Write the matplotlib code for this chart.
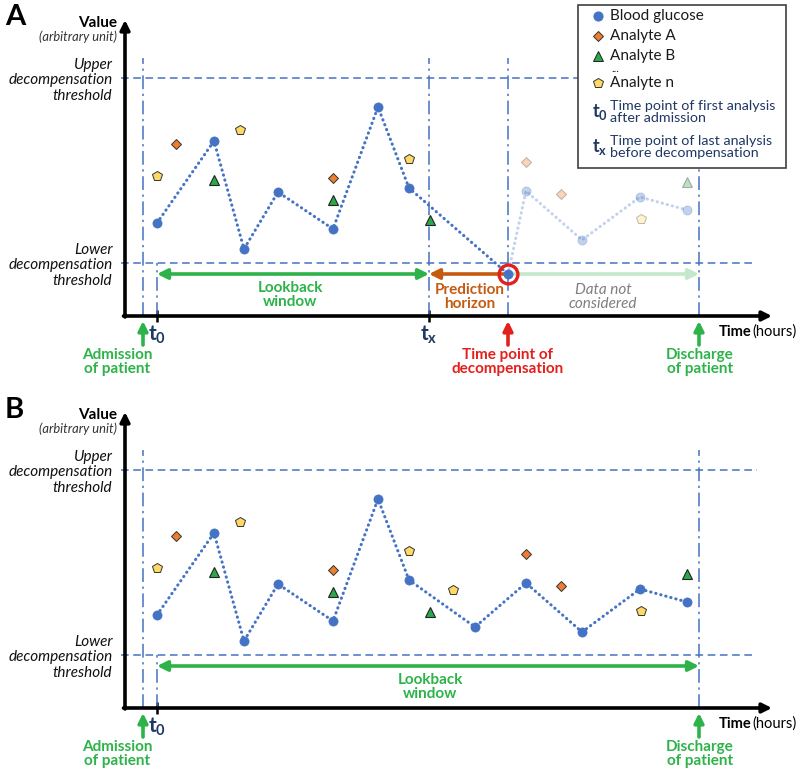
import matplotlib
matplotlib.use('Agg')
import matplotlib.pyplot as plt
from matplotlib.lines import Line2D
from matplotlib.patches import Rectangle

plt.rcParams['font.family'] = ['Lato', 'DejaVu Sans']
plt.rcParams['mathtext.fontset'] = 'custom'
plt.rcParams['mathtext.rm'] = 'Lato'
plt.rcParams['mathtext.bf'] = 'Lato:bold'
plt.rcParams['mathtext.it'] = 'Lato:italic'

# ---------------- data (time in hours, value in arbitrary units) ----------------
glucose_t_A = [3.2, 8.9, 11.9, 15.3, 20.8, 25.3, 28.4, 38.3, 40.1, 45.7, 51.5, 56.2]
glucose_v_A = [9.3, 17.5, 6.7, 12.4, 8.7, 20.9, 12.8, 4.2, 12.5, 7.6, 11.9, 10.6]
glucose_t_B = [3.2, 8.9, 11.9, 15.3, 20.8, 25.3, 28.4, 35.0, 40.1, 45.7, 51.5, 56.2]
glucose_v_B = [9.3, 17.5, 6.7, 12.4, 8.7, 20.9, 12.8, 8.1, 12.5, 7.6, 11.9, 10.6]

analyteA_t = [5.1, 20.8, 40.1, 43.6]
analyteA_v = [17.2, 13.8, 15.4, 12.2]
analyteB_t = [8.9, 20.8, 30.5, 56.2]
analyteB_v = [13.6, 11.6, 9.6, 13.4]
analyteN_t_A = [3.2, 11.5, 28.4, 51.6]
analyteN_v_A = [14.0, 18.6, 15.7, 9.7]
analyteN_t_B = [3.2, 11.5, 28.4, 32.8, 51.6]
analyteN_v_B = [14.0, 18.6, 15.7, 11.8, 9.7]

upper_threshold = 23.8
lower_threshold = 5.3
t_admission = 1.8
t_0 = 3.2
t_x = 30.4
t_decomp = 38.3
t_discharge = 57.4

threshold_labels = ['Lower\ndecompensation\nthreshold', 'Upper\ndecompensation\nthreshold']

# ---------------- styles ----------------
BLUE = '#4472C4'
ORANGE = '#ED7D31'
GREEN_M = '#2BA84A'
YELLOW = '#FFD966'
GREEN_T = '#2DB34A'
PRED = '#C55A11'
RED = '#E3201B'
NAVY = '#1F3864'
GREY = '#7F7F7F'
FADE = 0.32

W, H = 800, 770
fig = plt.figure(figsize=(W / 100, H / 100), dpi=100)


def fpx(x, y):
    return (x / W, 1 - y / H)


XMAX, YMAX = 64.7, 29.6


def make_axes(top_px):
    left, right, bottom = 125, 772, top_px + 296
    return fig.add_axes([left / W, 1 - bottom / H, (right - left) / W, 296 / H])


def draw_panel(ax, gl_t, gl_v, aN_t, aN_v, mode):
    ax.set_xlim(0, XMAX)
    ax.set_ylim(0, YMAX)
    for s in ax.spines.values():
        s.set_visible(False)
    ax.patch.set_alpha(0)

    # axes with arrow heads
    ap = dict(arrowstyle='-|>', lw=2.6, color='black', mutation_scale=14, shrinkA=0, shrinkB=0)
    ax.annotate('', xy=(XMAX, 0), xytext=(-0.15, 0), arrowprops=ap, annotation_clip=False, zorder=6)
    ax.annotate('', xy=(0, YMAX), xytext=(0, -0.1), arrowprops=ap, annotation_clip=False, zorder=6)

    # thresholds
    ax.plot([-0.4, 63.2], [upper_threshold] * 2, color=BLUE, lw=1.1, ls=(0, (5, 3)), clip_on=False)
    ax.plot([-0.4, 62.7], [lower_threshold] * 2, color=BLUE, lw=1.1, ls=(0, (5, 3)), clip_on=False)

    # vertical dash-dot lines
    dd = dict(color=BLUE, lw=1.1, ls=(0, (9, 3, 1.5, 3)))
    vl = [t_admission, t_discharge] + ([t_x, t_decomp] if mode == 'A' else [])
    for t in vl:
        ax.plot([t, t], [0, 25.8], **dd)
    ax.plot([t_0, t_0], [0, lower_threshold], **dd)

    cutoff = t_decomp if mode == 'A' else 1e9

    def split(ts, vs):
        a = [(t, v) for t, v in zip(ts, vs) if t <= cutoff]
        b = [(t, v) for t, v in zip(ts, vs) if t > cutoff]
        return a, b

    line_style = dict(color=BLUE, lw=2.2, ls=(0, (0.1, 1.6)), dash_capstyle='round')
    g_in, g_out = split(gl_t, gl_v)
    ax.plot([p[0] for p in g_in], [p[1] for p in g_in], zorder=3, **line_style)
    if g_out:
        seg = [g_in[-1]] + g_out
        ax.plot([p[0] for p in seg], [p[1] for p in seg], zorder=3, alpha=FADE, **line_style)

    def scatter(ts, vs, marker, ms, fc, ec, lw):
        a, b = split(ts, vs)
        if a:
            ax.plot([p[0] for p in a], [p[1] for p in a], ls='none', marker=marker, ms=ms,
                    mfc=fc, mec=ec, mew=lw, zorder=5)
        if b:
            ax.plot([p[0] for p in b], [p[1] for p in b], ls='none', marker=marker, ms=ms,
                    mfc=fc, mec=ec, mew=lw, zorder=5, alpha=FADE)

    scatter(gl_t, gl_v, 'o', 6.6, BLUE, BLUE, 0.5)
    scatter(analyteA_t, analyteA_v, 'D', 4.8, ORANGE, '#333333', 0.7)
    scatter(analyteB_t, analyteB_v, '^', 7.2, GREEN_M, '#222222', 0.8)
    scatter(aN_t, aN_v, 'p', 7.0, YELLOW, '#333333', 0.7)

    # horizontal annotation arrows
    y_arr = 4.2
    if mode == 'A':
        ax.annotate('', xy=(t_0, y_arr), xytext=(t_x, y_arr),
                    arrowprops=dict(arrowstyle='<|-|>', lw=2.6, color=GREEN_T, mutation_scale=15,
                                    shrinkA=0, shrinkB=0), zorder=4)
        ax.annotate('', xy=(t_discharge, y_arr), xytext=(t_decomp, y_arr),
                    arrowprops=dict(arrowstyle='-|>', lw=2.6, color='#C3E8CA', mutation_scale=15,
                                    shrinkA=0, shrinkB=0), zorder=2)
        ax.annotate('', xy=(t_x, y_arr), xytext=(t_decomp, y_arr),
                    arrowprops=dict(arrowstyle='-|>', lw=2.6, color=PRED, mutation_scale=15,
                                    shrinkA=0, shrinkB=0), zorder=4)
        ax.plot([t_decomp], [glucose_v_A[7]], ls='none', marker='o', ms=13.5, mfc='none',
                mec=RED, mew=2.4, zorder=7)
        ax.text(16.5, 2.1, 'Lookback\nwindow', ha='center', va='center', color=GREEN_T,
                fontsize=11, fontweight='bold', linespacing=1.05)
        ax.text(34.5, 1.9, 'Prediction\nhorizon', ha='center', va='center', color=PRED,
                fontsize=11, fontweight='bold', linespacing=1.05)
        ax.text(47.8, 1.9, 'Data not\nconsidered', ha='center', va='center', color=GREY,
                fontsize=11, fontstyle='italic', linespacing=1.05)
    else:
        ax.annotate('', xy=(t_0, y_arr), xytext=(t_discharge, y_arr),
                    arrowprops=dict(arrowstyle='<|-|>', lw=2.6, color=GREEN_T, mutation_scale=15,
                                    shrinkA=0, shrinkB=0), zorder=4)
        ax.text(30.5, 2.1, 'Lookback\nwindow', ha='center', va='center', color=GREEN_T,
                fontsize=11, fontweight='bold', linespacing=1.05)

    # ticks
    if mode == 'A':
        ax.set_xticks([t_0, t_x], labels=[r'$\mathbf{t_0}$', r'$\mathbf{t_x}$'])
    else:
        ax.set_xticks([t_0], labels=[r'$\mathbf{t_0}$'])
    ax.tick_params(axis='x', direction='inout', length=9, width=1.8, color='black',
                   labelcolor=NAVY, labelsize=15, pad=1)
    ax.set_yticks([lower_threshold, upper_threshold], labels=threshold_labels)
    ax.tick_params(axis='y', length=0, pad=9, labelsize=11, labelcolor='#111111')
    for lbl in ax.get_yticklabels():
        lbl.set_fontstyle('italic')
        lbl.set_linespacing(1.15)

    # axis titles
    ax.text(-0.8, 28.9, 'Value', ha='right', va='baseline', fontsize=11, fontweight='bold')
    ax.text(-0.8, 28.6, '(arbitrary unit)', ha='right', va='top', fontsize=9.3, fontstyle='italic',
            color='#333333')
    tt = ax.text(59.4, -1.6, 'Time', ha='left', va='center', fontsize=10.5, fontweight='bold')
    ax.annotate('(hours)', xy=(1, 0.5), xycoords=tt, xytext=(0.5, 0), textcoords='offset points',
                ha='left', va='center', fontsize=10.5)

    # event arrows under the axis
    def up_arrow(t, color, label, lx):
        ax.annotate('', xy=(t, -0.5), xytext=(t, -2.9),
                    arrowprops=dict(arrowstyle='-|>', lw=2.6, color=color, mutation_scale=14,
                                    shrinkA=0, shrinkB=0), annotation_clip=False)
        ax.text(lx, -4.6, label, ha='center', va='center', color=color, fontsize=11,
                fontweight='bold', linespacing=1.05)

    up_arrow(t_admission, GREEN_T, 'Admission\nof patient', -0.8)
    up_arrow(t_discharge, GREEN_T, 'Discharge\nof patient', 57.5)
    if mode == 'A':
        up_arrow(t_decomp, RED, 'Time point of\ndecompensation', t_decomp)


axA = make_axes(20)
axB = make_axes(412)
draw_panel(axA, glucose_t_A, glucose_v_A, analyteN_t_A, analyteN_v_A, 'A')
draw_panel(axB, glucose_t_B, glucose_v_B, analyteN_t_B, analyteN_v_B, 'B')

fig.text(*fpx(5, 25), 'A', fontsize=21, fontweight='bold', va='baseline')
fig.text(*fpx(5, 418), 'B', fontsize=21, fontweight='bold', va='baseline')

# ---------------- legend (figure pixel layout) ----------------
x0, y0 = fpx(578, 168)
x1, y1 = fpx(786, 5)
fig.add_artist(Rectangle((x0, y0), x1 - x0, y1 - y0, transform=fig.transFigure,
                         facecolor='white', edgecolor='#404040', lw=1.2, zorder=10))
leg_items = [
    ('o', 6.6, BLUE, BLUE, 16, 'Blood glucose'),
    ('D', 4.8, ORANGE, '#333333', 36, 'Analyte A'),
    ('^', 7.2, GREEN_M, '#222222', 56, 'Analyte B'),
    ('p', 7.0, YELLOW, '#333333', 83, 'Analyte n'),
]
for m, ms, fc, ec, yy, lab in leg_items:
    fig.add_artist(Line2D([598 / W], [1 - yy / H], transform=fig.transFigure, marker=m, ms=ms,
                          mfc=fc, mec=ec, mew=0.7, ls='none', zorder=11))
    fig.text(*fpx(610, yy), lab, fontsize=11, va='center', ha='left', color='#1a1a1a', zorder=11)
fig.text(*fpx(611, 68), '...', fontsize=8, va='center', ha='left', color='#1a1a1a', zorder=11)
fig.text(*fpx(592, 112), r'$\mathbf{t_0}$', fontsize=13, va='center', ha='left', color=NAVY, zorder=11)
fig.text(*fpx(610, 112), 'Time point of first analysis\nafter admission', fontsize=10.3,
         va='center', ha='left', color=NAVY, linespacing=1.05, zorder=11)
fig.text(*fpx(592, 147), r'$\mathbf{t_x}$', fontsize=13, va='center', ha='left', color=NAVY, zorder=11)
fig.text(*fpx(610, 147), 'Time point of last analysis\nbefore decompensation', fontsize=10.3,
         va='center', ha='left', color=NAVY, linespacing=1.05, zorder=11)

fig.savefig('out.png', dpi=100)
